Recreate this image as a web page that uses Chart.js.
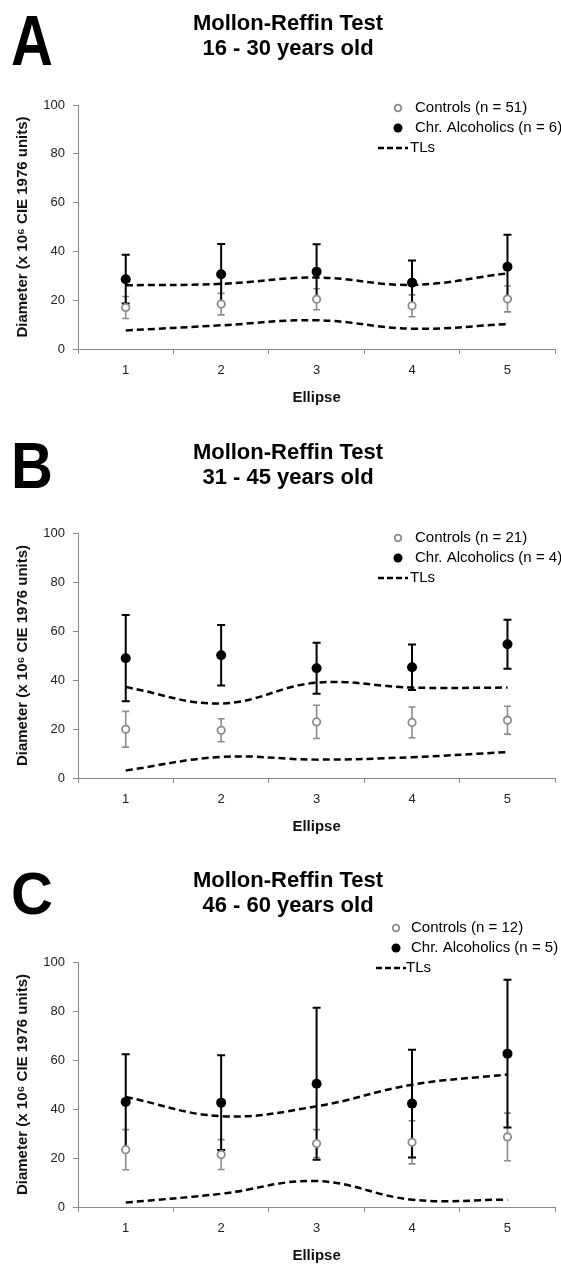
<!DOCTYPE html>
<html>
<head>
<meta charset="utf-8">
<script src="https://cdn.jsdelivr.net/npm/chart.js@4.4.1/dist/chart.umd.min.js"></script>
<style>
  body { margin: 0; background: #fff; }
  canvas { position: absolute; left: 0; }
</style>
</head>
<body>
<canvas id="chartA" width="561" height="420" style="top:0px"></canvas>
<canvas id="chartB" width="561" height="420" style="top:420px"></canvas>
<canvas id="chartC" width="561" height="425" style="top:840px"></canvas>
<script>
// data
const ellipses = ['1', '2', '3', '4', '5'];
const yTicks = [0, 20, 40, 60, 80, 100];
const panelLetters = ['A', 'B', 'C'];
const ageGroups = ['16 - 30 years old', '31 - 45 years old', '46 - 60 years old'];
const controlsN = [51, 21, 12];
const alcoholicsN = [6, 4, 5];

// panel A (16-30)
const ctrlMeanA = [17.0, 18.4, 20.4, 17.7, 20.5];
const ctrlSdA = [4.5, 4.4, 4.3, 4.5, 5.3];
const alcMeanA = [28.6, 30.6, 31.7, 27.2, 33.7];
const alcSdA = [10.0, 12.4, 11.2, 9.1, 13.1];
const tlUpperA = [26.1, 26.7, 29.3, 26.3, 31.0];
const tlLowerA = [7.6, 9.7, 11.8, 8.3, 10.2];

// panel B (31-45)
const ctrlMeanB = [19.9, 19.5, 22.9, 22.7, 23.6];
const ctrlSdB = [7.3, 4.7, 6.8, 6.3, 5.7];
const alcMeanB = [48.9, 50.1, 44.8, 45.2, 54.6];
const alcSdB = [17.6, 12.3, 10.4, 9.3, 10.0];
const tlUpperB = [37.1, 30.4, 38.9, 36.9, 36.9];
const tlLowerB = [3.1, 8.6, 7.5, 8.5, 10.6];

// panel C (46-60)
const ctrlMeanC = [23.4, 21.4, 25.9, 26.4, 28.6];
const ctrlSdC = [8.2, 6.1, 5.7, 8.8, 9.7];
const alcMeanC = [42.9, 42.6, 50.3, 42.2, 62.6];
const alcSdC = [19.4, 19.3, 31.0, 22.0, 30.2];
const tlUpperC = [44.9, 37.1, 41.1, 49.9, 54.1];
const tlLowerC = [1.8, 5.4, 10.6, 3.0, 3.0];

const FONT = '"Liberation Sans", Arial, sans-serif';
const GREY = '#8c8c8c';
const AXIS = '#8a8a8a';

// layout of each panel (canvas-local pixels)
const panels = [
    { id: 'chartA', top: 105, bottom: 13, letterY: 65, letterH: 50, titleY: 30, legendY: 108, markX: 398, textX: 415,
      ctrl: ctrlMeanA, ctrlSd: ctrlSdA, alc: alcMeanA, alcSd: alcSdA, up: tlUpperA, low: tlLowerA },
    { id: 'chartB', top: 113, bottom: 4, letterY: 68, letterH: 46, titleY: 39, legendY: 118, markX: 398, textX: 415,
      ctrl: ctrlMeanB, ctrlSd: ctrlSdB, alc: alcMeanB, alcSd: alcSdB, up: tlUpperB, low: tlLowerB },
    { id: 'chartC', top: 122, bottom: 0, letterY: 74, letterH: 43, titleY: 47, legendY: 88, markX: 396, textX: 411,
      ctrl: ctrlMeanC, ctrlSd: ctrlSdC, alc: alcMeanC, alcSd: alcSdC, up: tlUpperC, low: tlLowerC }
];

// error bars, drawn under the markers
const errorBarPlugin = {
    id: 'errorBars',
    beforeDatasetsDraw(chart) {
        const { ctx, scales: { x, y } } = chart;
        const sets = chart.data.datasets.filter(ds => ds.errors).reverse();
        sets.forEach(ds => {
            ctx.save();
            ctx.strokeStyle = ds.errorColor;
            ctx.lineWidth = ds.errorWidth;
            const cap = ds.capHalf;
            ds.data.forEach((v, i) => {
                const px = x.getPixelForValue(i);
                const top = y.getPixelForValue(v + ds.errors[i]);
                const bot = y.getPixelForValue(v - ds.errors[i]);
                ctx.beginPath();
                ctx.moveTo(px, top); ctx.lineTo(px, bot);
                ctx.moveTo(px - cap, top); ctx.lineTo(px + cap, top);
                ctx.moveTo(px - cap, bot); ctx.lineTo(px + cap, bot);
                ctx.stroke();
            });
            ctx.restore();
        });
    }
};

// panel letter, two-line title and legend
const headerPlugin = {
    id: 'header',
    afterDraw(chart, args, o) {
        const ctx = chart.ctx;
        ctx.save();
        ctx.fillStyle = '#000';
        ctx.textBaseline = 'alphabetic';
        ctx.textAlign = 'left';
        // the panel letter is a bit taller than plain Arial bold
        ctx.save();
        ctx.translate(11, o.letterY);
        ctx.scale(1, o.letterH / (0.716 * 58));
        ctx.font = 'bold 58px ' + FONT;
        ctx.fillText(o.letter, 0, 0);
        ctx.restore();

        ctx.textAlign = 'center';
        ctx.font = 'bold 22px ' + FONT;
        ctx.fillText('Mollon-Reffin Test', 288, o.titleY);
        ctx.fillText(o.age, 288, o.titleY + 25);

        ctx.textAlign = 'left';
        ctx.textBaseline = 'middle';
        ctx.font = '15px ' + FONT;
        let y = o.legendY;
        // controls
        ctx.beginPath();
        ctx.arc(o.markX, y, 3.3, 0, Math.PI * 2);
        ctx.fillStyle = '#fff';
        ctx.fill();
        ctx.strokeStyle = GREY;
        ctx.lineWidth = 1.8;
        ctx.stroke();
        ctx.fillStyle = '#000';
        ctx.fillText('Controls (n = ' + o.nCtrl + ')', o.textX, y);
        // alcoholics
        y += 20;
        ctx.beginPath();
        ctx.arc(o.markX, y, 4.5, 0, Math.PI * 2);
        ctx.fill();
        ctx.fillText('Chr. Alcoholics (n = ' + o.nAlc + ')', o.textX, y);
        // TLs
        y += 20;
        ctx.beginPath();
        ctx.setLineDash([6, 3]);
        ctx.strokeStyle = '#000';
        ctx.lineWidth = 2.5;
        ctx.moveTo(o.markX - 20, y);
        ctx.lineTo(o.markX + 10, y);
        ctx.stroke();
        ctx.setLineDash([]);
        ctx.fillText('TLs', o.textX - 5, y);
        ctx.restore();
    }
};

panels.forEach((p, k) => {
    const ctx = document.getElementById(p.id).getContext('2d');
    new Chart(ctx, {
        type: 'line',
        data: {
            labels: ellipses,
            datasets: [
                {
                    label: 'Chr. Alcoholics',
                    data: p.alc,
                    errors: p.alcSd,
                    errorColor: '#000',
                    errorWidth: 2,
                    capHalf: 4,
                    showLine: false,
                    pointRadius: 5,
                    pointBorderWidth: 0,
                    pointBackgroundColor: '#000',
                    pointBorderColor: '#000'
                },
                {
                    label: 'Controls',
                    data: p.ctrl,
                    errors: p.ctrlSd,
                    errorColor: GREY,
                    errorWidth: 1.6,
                    capHalf: 3.5,
                    showLine: false,
                    pointRadius: 3.7,
                    pointBorderWidth: 1.8,
                    pointBackgroundColor: '#fff',
                    pointBorderColor: GREY
                },
                {
                    label: 'TLs',
                    data: p.up,
                    borderColor: '#000',
                    borderWidth: 2.5,
                    borderDash: [7, 4],
                    pointRadius: 0,
                    tension: 0.4,
                    fill: false
                },
                {
                    label: 'TLs low',
                    data: p.low,
                    borderColor: '#000',
                    borderWidth: 2.5,
                    borderDash: [7, 4],
                    pointRadius: 0,
                    tension: 0.4,
                    fill: false
                }
            ]
        },
        options: {
            responsive: false,
            animation: false,
            layout: { padding: { top: p.top, right: 4, bottom: p.bottom, left: 0 } },
            scales: {
                x: {
                    offset: true,
                    grid: { offset: true, drawOnChartArea: false, drawTicks: true, tickLength: 5, color: AXIS },
                    border: { display: true, color: AXIS, width: 1 },
                    ticks: { padding: 9, color: '#222', font: { family: FONT, size: 13 } },
                    title: { display: true, text: 'Ellipse', color: '#111', padding: { top: 0, bottom: 0 },
                             font: { family: FONT, size: 15, weight: 'bold' } },
                    afterFit(scale) { scale.height = 58; }
                },
                y: {
                    min: 0,
                    max: 100,
                    afterBuildTicks(scale) { scale.ticks = yTicks.map(v => ({ value: v })); },
                    grid: { drawOnChartArea: false, drawTicks: true, tickLength: 5, color: AXIS },
                    border: { display: true, color: AXIS, width: 1 },
                    ticks: { padding: 8, color: '#222', font: { family: FONT, size: 13 } },
                    title: { display: true, text: 'Diameter (x 10⁶ CIE 1976 units)', color: '#111',
                             padding: { top: 14, bottom: 0 }, font: { family: FONT, size: 15, weight: 'bold' } },
                    afterFit(scale) { scale.width = 78; }
                }
            },
            plugins: {
                legend: { display: false },
                tooltip: { enabled: false },
                title: { display: false },
                header: {
                    letter: panelLetters[k], age: ageGroups[k],
                    nCtrl: controlsN[k], nAlc: alcoholicsN[k],
                    letterY: p.letterY, letterH: p.letterH, titleY: p.titleY,
                    legendY: p.legendY, markX: p.markX, textX: p.textX
                }
            }
        },
        plugins: [errorBarPlugin, headerPlugin]
    });
});
</script>
</body>
</html>
